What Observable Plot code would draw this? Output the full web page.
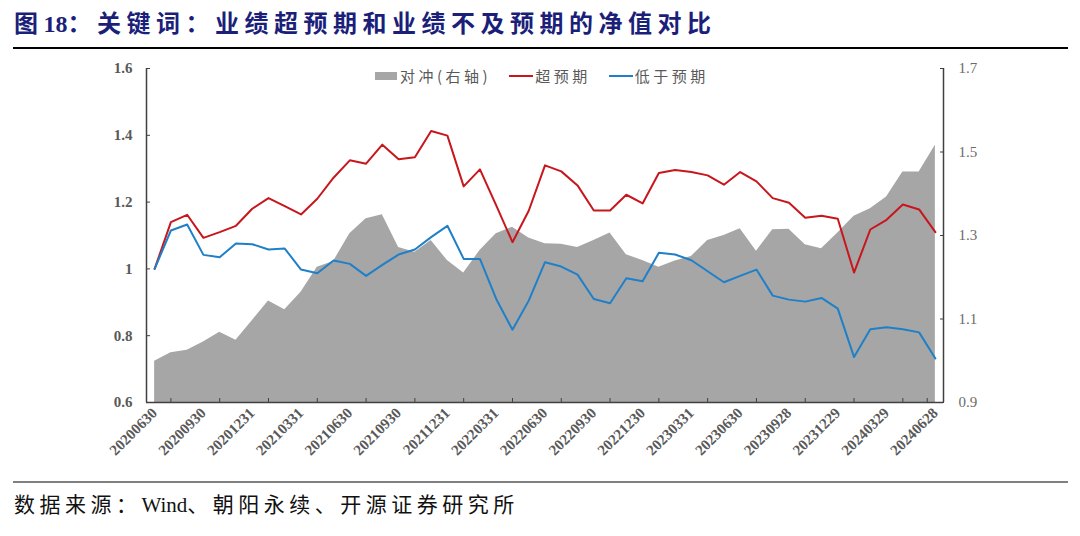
<!DOCTYPE html>
<html><head><meta charset="utf-8">
<script src="https://cdn.jsdelivr.net/npm/d3@7"></script>
<script src="https://cdn.jsdelivr.net/npm/@observablehq/plot@0.6"></script>
<style>
body{margin:0;background:#fff;}
#wrap{position:relative;width:1080px;height:536px;overflow:hidden;}
#title{position:absolute;left:14px;top:9px;font-size:24px;line-height:30px;font-weight:bold;color:#1b1f7a;letter-spacing:5.5px;font-family:"Liberation Serif","Noto Sans CJK SC",serif;white-space:nowrap;}
#tline{position:absolute;left:13px;top:47px;width:1055px;height:2px;background:#000;}
#chart{position:absolute;left:0;top:50px;}
#cline{position:absolute;left:13px;top:481px;width:1055px;height:2px;background:#808080;}
#caption{position:absolute;left:14px;top:491px;font-size:21px;line-height:28px;color:#111;letter-spacing:4.5px;font-family:"Liberation Serif","Noto Sans CJK SC",serif;white-space:nowrap;}
.tight{letter-spacing:0;}
#legend{position:absolute;top:65px;left:375px;display:flex;align-items:center;font-family:"Noto Sans CJK SC",sans-serif;font-size:15px;color:#595959;letter-spacing:3.5px;white-space:nowrap;}
#legend .sw{display:inline-block;width:22px;height:8px;background:#a6a6a6;margin-right:3px;}
#legend .ln{display:inline-block;width:24px;height:2px;margin-right:2px;}
#legend .it{display:flex;align-items:center;margin-right:18px;}
</style></head>
<body>
<div id="wrap">
  <div id="title">图<span class="tight">18</span>：关键词：业绩超预期和业绩不及预期的净值对比</div>
  <div id="tline"></div>
  <div id="chart"></div>
  <div id="legend">
    <span class="it"><span class="sw"></span>对冲(右轴)</span>
    <span class="it"><span class="ln" style="background:#c8161d"></span>超预期</span>
    <span class="it"><span class="ln" style="background:#1f80c8"></span>低于预期</span>
  </div>
  <div id="cline"></div>
  <div id="caption">数据来源：<span class="tight">Wind</span>、朝阳永续、开源证券研究所</div>
</div>
<script>
const xLabels = ["20200630","20200930","20201231","20210331","20210630","20210930","20211231","20220331","20220630","20220930","20221230","20230331","20230630","20230928","20231229","20240329","20240628"];

const beat = [1.000,1.140,1.162,1.093,1.110,1.129,1.180,1.212,1.188,1.163,
              1.210,1.273,1.325,1.315,1.372,1.328,1.334,1.413,1.399,1.247,
              1.298,1.190,1.080,1.174,1.310,1.292,1.250,1.175,1.175,1.222,
              1.196,1.287,1.296,1.290,1.280,1.252,1.290,1.262,1.212,1.198,
              1.153,1.159,1.150,0.989,1.118,1.147,1.193,1.178,1.110];

const miss = [1.000,1.115,1.133,1.042,1.035,1.076,1.074,1.058,1.061,0.998,
              0.987,1.025,1.015,0.979,1.012,1.043,1.058,1.095,1.129,1.030,
              1.030,0.910,0.818,0.905,1.020,1.007,0.983,0.910,0.897,0.972,
              0.963,1.048,1.043,1.026,0.993,0.960,0.979,0.998,0.920,0.908,
              0.902,0.913,0.881,0.736,0.819,0.825,0.819,0.810,0.732];

const hedge = [0.999,1.019,1.025,1.045,1.068,1.049,1.096,1.143,1.122,1.164,
               1.224,1.238,1.304,1.340,1.350,1.271,1.260,1.288,1.240,1.210,
               1.264,1.304,1.320,1.294,1.280,1.279,1.271,1.288,1.306,1.254,
               1.240,1.224,1.239,1.250,1.288,1.300,1.316,1.262,1.314,1.315,
               1.278,1.268,1.306,1.346,1.364,1.392,1.452,1.452,1.516];

const leftTicks = [0.6, 0.8, 1.0, 1.2, 1.4, 1.6];
const rightTicks = [0.9, 1.1, 1.3, 1.5, 1.7];

// right axis [0.9,1.7] mapped onto left axis [0.6,1.6]
const toLeft = v => 0.6 + (v - 0.9) * 1.25;
const fromLeft = v => (v - 0.6) / 1.25 + 0.9;

const data = beat.map((b, i) => ({i, beat: b, miss: miss[i], hedge: hedge[i]}));
const labelIdx = xLabels.map((_, k) => k * 3);
const tickIdx = d3.range(1, 48, 3).concat([47.5]);

const chart = Plot.plot({
  width: 1080,
  height: 430,
  marginTop: 18,
  marginBottom: 78,
  marginLeft: 146,
  marginRight: 137,
  x: {type: "linear", domain: [-0.5, 48.5]},
  y: {domain: [0.6, 1.6]},
  style: {fontFamily: "'Liberation Serif', serif", color: "#404040", background: "#fff"},
  marks: [
    Plot.areaY(data, {x: "i", y1: 0.6, y2: d => toLeft(d.hedge), fill: "#a6a6a6"}),
    Plot.line(data, {x: "i", y: "beat", stroke: "#c8161d", strokeWidth: 2}),
    Plot.line(data, {x: "i", y: "miss", stroke: "#1f80c8", strokeWidth: 2}),
    Plot.ruleX([-0.5], {y1: 0.6, y2: 1.6, stroke: "#404040", strokeWidth: 1.5}),
    Plot.ruleX([48.5], {y1: 0.6, y2: 1.6, stroke: "#404040", strokeWidth: 1.5}),
    Plot.ruleY([0.6], {stroke: "#404040", strokeWidth: 1.5}),
    Plot.axisY(leftTicks, {anchor: "left", tickSize: -4, tickPadding: 18, fontSize: 15, fontWeight: "bold", fill: "#595959", tickFormat: d => d === 1 ? "1" : d.toFixed(1), label: null}),
    Plot.axisY(rightTicks.map(toLeft), {anchor: "right", tickSize: -4, tickPadding: 19, fontSize: 15, fill: "#6b6b6b", tickFormat: d => fromLeft(d).toFixed(1), label: null}),
    Plot.axisX(tickIdx, {anchor: "bottom", tickSize: -4, tickFormat: () => "", label: null}),
    Plot.axisX(labelIdx, {anchor: "bottom", tickSize: 0, tickPadding: 8, tickRotate: -45, fontSize: 15, fontWeight: "bold", fill: "#595959", tickFormat: d => xLabels[d / 3], label: null})
  ]
});
document.getElementById("chart").appendChild(chart);
</script>
</body></html>
